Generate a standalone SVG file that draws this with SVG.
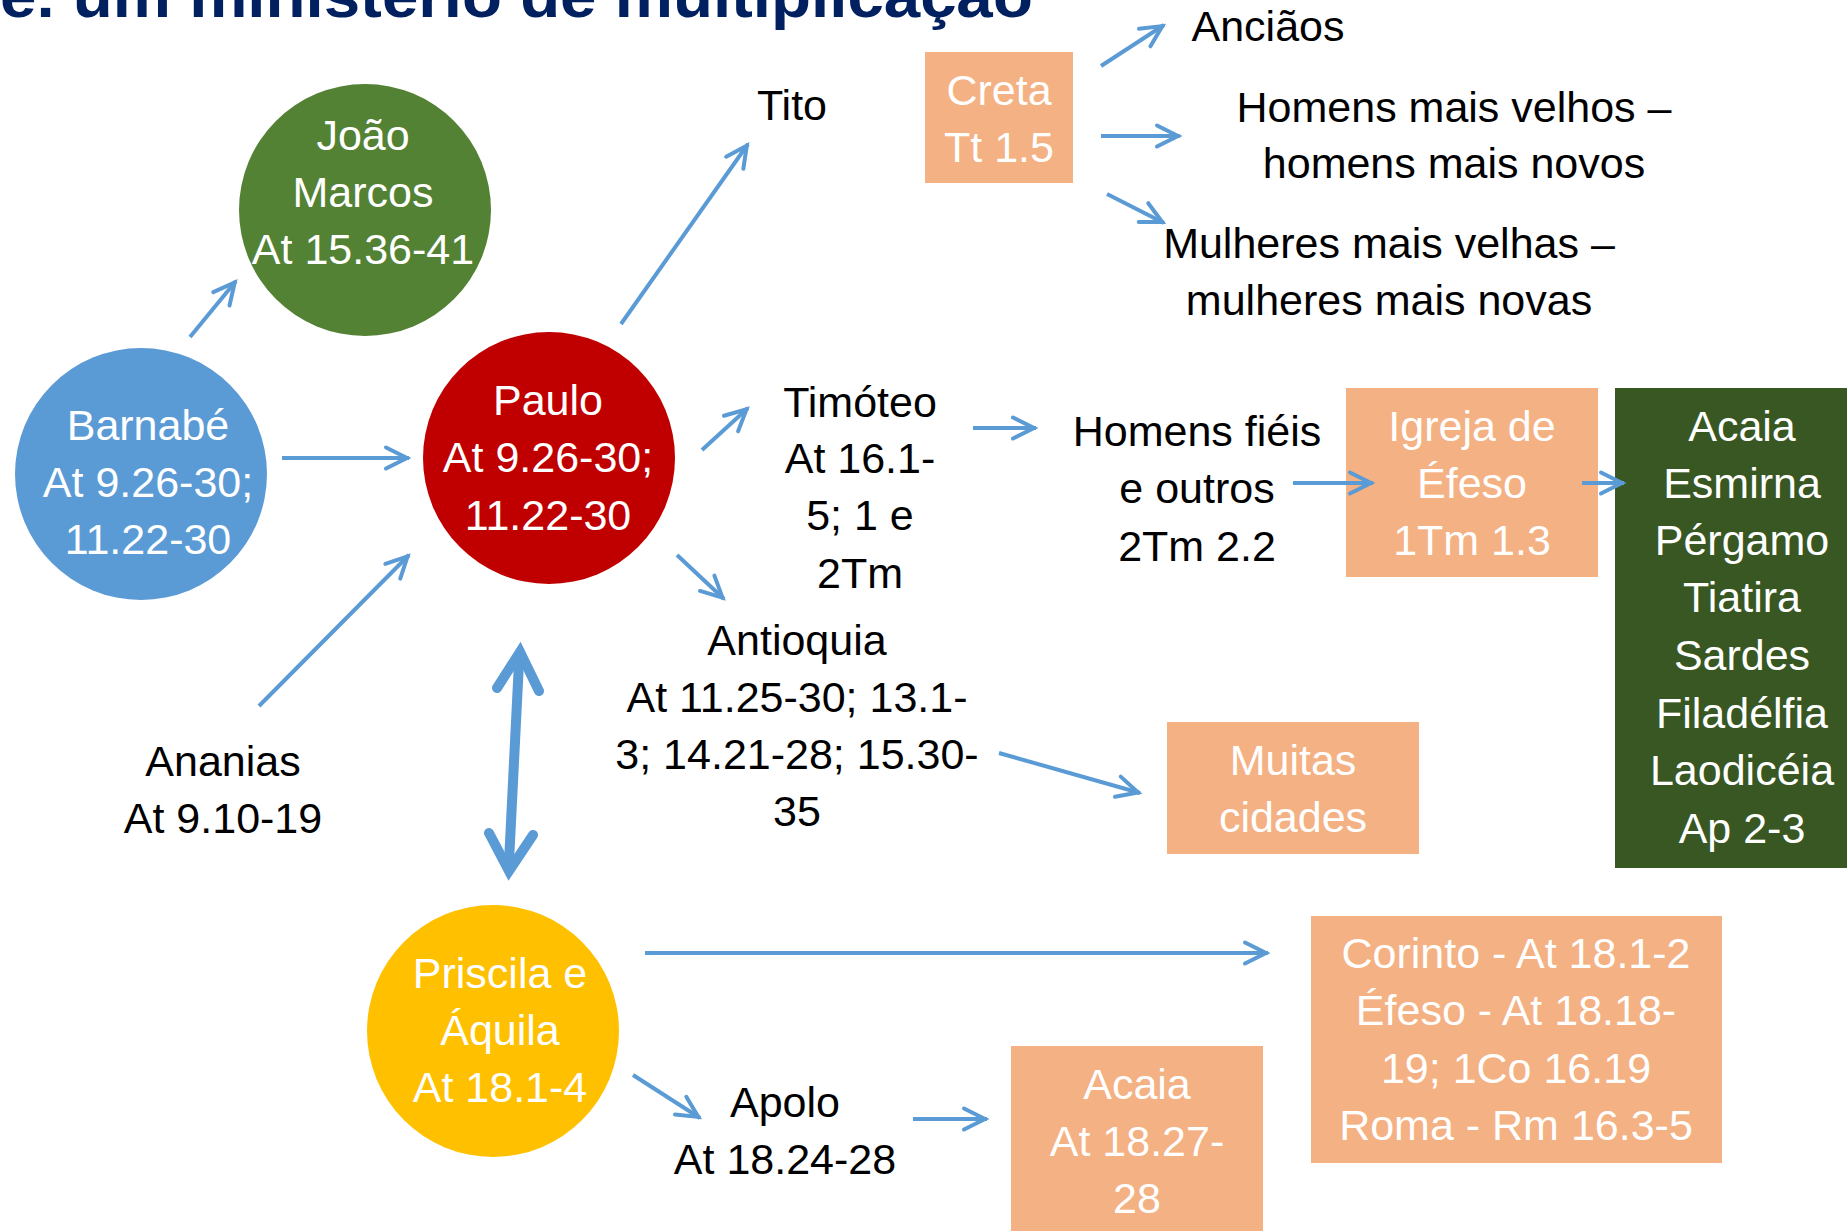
<svg xmlns="http://www.w3.org/2000/svg" width="1847" height="1231" viewBox="0 0 1847 1231">
<style>
.t{font-family:"Liberation Sans",Arial,sans-serif;font-size:43px;text-anchor:middle}
.w{fill:#ffffff}
.k{fill:#000000}
.c{stroke:#5B9BD5;stroke-width:4;fill:none;marker-end:url(#ah)}
.box{fill:#F4B183}
</style>
<defs>
<marker id="ah" markerUnits="userSpaceOnUse" markerWidth="40" markerHeight="40" viewBox="-30 -20 40 40" refX="2" refY="0" orient="auto" overflow="visible">
<path d="M-21,-10.5 L0,0 L-21,10.5" fill="none" stroke="#5B9BD5" stroke-width="4" stroke-linecap="round" stroke-linejoin="miter"/>
</marker>
</defs>
<rect width="1847" height="1231" fill="#ffffff"/>

<g id="title">
<text x="0" y="17" font-family="'Liberation Sans',Arial,sans-serif" font-weight="bold" font-size="62" fill="#002060" textLength="1033" lengthAdjust="spacingAndGlyphs">e. um ministério de multiplicação</text>
</g>

<g id="joao">
<circle cx="365" cy="210" r="126" fill="#548235"/>
<text class="t w" x="363" y="150">João</text>
<text class="t w" x="363" y="207">Marcos</text>
<text class="t w" x="363" y="264">At 15.36-41</text>
</g>

<g id="barnabe">
<circle cx="141" cy="474" r="126" fill="#5B9BD5"/>
<text class="t w" x="148" y="440">Barnabé</text>
<text class="t w" x="148" y="497">At 9.26-30;</text>
<text class="t w" x="148" y="554">11.22-30</text>
</g>

<g id="paulo">
<circle cx="549" cy="458" r="126" fill="#C00000"/>
<text class="t w" x="548" y="415">Paulo</text>
<text class="t w" x="548" y="472">At 9.26-30;</text>
<text class="t w" x="548" y="530">11.22-30</text>
</g>

<g id="priscila">
<circle cx="493" cy="1031" r="126" fill="#FFC000"/>
<text class="t w" x="500" y="988">Priscila e</text>
<text class="t w" x="500" y="1045">Áquila</text>
<text class="t w" x="500" y="1102">At 18.1-4</text>
</g>

<g id="ananias">
<text class="t k" x="223" y="776">Ananias</text>
<text class="t k" x="223" y="833">At 9.10-19</text>
</g>

<g id="tito">
<text class="t k" x="792" y="120">Tito</text>
</g>

<g id="creta">
<rect class="box" x="925" y="52" width="148" height="131"/>
<text class="t w" x="999" y="105">Creta</text>
<text class="t w" x="999" y="162">Tt 1.5</text>
</g>

<g id="ancioes">
<text class="t k" x="1268" y="41">Anciãos</text>
</g>

<g id="homens-velhos">
<text class="t k" x="1454" y="122">Homens mais velhos –</text>
<text class="t k" x="1454" y="178">homens mais novos</text>
</g>

<g id="mulheres">
<text class="t k" x="1389" y="258">Mulheres mais velhas –</text>
<text class="t k" x="1389" y="315">mulheres mais novas</text>
</g>

<g id="timoteo">
<text class="t k" x="860" y="417">Timóteo</text>
<text class="t k" x="860" y="473">At 16.1-</text>
<text class="t k" x="860" y="530">5; 1 e</text>
<text class="t k" x="860" y="588">2Tm</text>
</g>

<g id="homens-fieis">
<text class="t k" x="1197" y="446">Homens fiéis</text>
<text class="t k" x="1197" y="503">e outros</text>
<text class="t k" x="1197" y="561">2Tm 2.2</text>
</g>

<g id="igreja-efeso">
<rect class="box" x="1346" y="388" width="252" height="189"/>
<text class="t w" x="1472" y="441">Igreja de</text>
<text class="t w" x="1472" y="498">Éfeso</text>
<text class="t w" x="1472" y="555">1Tm 1.3</text>
</g>

<g id="igrejas-apocalipse">
<rect x="1615" y="388" width="232" height="480" fill="#385723"/>
<text class="t w" x="1742" y="441">Acaia</text>
<text class="t w" x="1742" y="498">Esmirna</text>
<text class="t w" x="1742" y="555">Pérgamo</text>
<text class="t w" x="1742" y="612">Tiatira</text>
<text class="t w" x="1742" y="670">Sardes</text>
<text class="t w" x="1742" y="728">Filadélfia</text>
<text class="t w" x="1742" y="785">Laodicéia</text>
<text class="t w" x="1742" y="843">Ap 2-3</text>
</g>

<g id="antioquia">
<text class="t k" x="797" y="655">Antioquia</text>
<text class="t k" x="797" y="712">At 11.25-30; 13.1-</text>
<text class="t k" x="797" y="769">3; 14.21-28; 15.30-</text>
<text class="t k" x="797" y="826">35</text>
</g>

<g id="muitas-cidades">
<rect class="box" x="1167" y="722" width="252" height="132"/>
<text class="t w" x="1293" y="775">Muitas</text>
<text class="t w" x="1293" y="832">cidades</text>
</g>

<g id="corinto">
<rect class="box" x="1311" y="916" width="411" height="247"/>
<text class="t w" x="1516" y="968">Corinto - At 18.1-2</text>
<text class="t w" x="1516" y="1025">Éfeso - At 18.18-</text>
<text class="t w" x="1516" y="1083">19; 1Co 16.19</text>
<text class="t w" x="1516" y="1140">Roma - Rm 16.3-5</text>
</g>

<g id="apolo">
<text class="t k" x="785" y="1117">Apolo</text>
<text class="t k" x="785" y="1174">At 18.24-28</text>
</g>

<g id="acaia">
<rect class="box" x="1011" y="1046" width="252" height="185"/>
<text class="t w" x="1137" y="1099">Acaia</text>
<text class="t w" x="1137" y="1156">At 18.27-</text>
<text class="t w" x="1137" y="1213">28</text>
</g>

<g id="connectors">
<line class="c" x1="190" y1="337" x2="236" y2="281"/>
<line class="c" x1="282" y1="458" x2="409" y2="458"/>
<line class="c" x1="259" y1="706" x2="409" y2="555"/>
<line class="c" x1="621" y1="324" x2="748" y2="144"/>
<line class="c" x1="702" y1="450" x2="748" y2="408"/>
<line class="c" x1="677" y1="555" x2="724" y2="599"/>
<line class="c" x1="1101" y1="66" x2="1164" y2="25"/>
<line class="c" x1="1101" y1="136" x2="1180" y2="136"/>
<line class="c" x1="1107" y1="194" x2="1164" y2="223"/>
<line class="c" x1="973" y1="428" x2="1036" y2="428"/>
<line class="c" x1="1293" y1="483" x2="1373" y2="483"/>
<line class="c" x1="1582" y1="483" x2="1624" y2="483"/>
<line class="c" x1="999" y1="753" x2="1140" y2="793"/>
<line class="c" x1="645" y1="953" x2="1268" y2="953"/>
<line class="c" x1="633" y1="1075" x2="700" y2="1118"/>
<line class="c" x1="913" y1="1119" x2="987" y2="1119"/>
<g stroke="#5B9BD5" stroke-width="10" fill="none" stroke-linecap="round" stroke-linejoin="miter" stroke-miterlimit="10">
<line x1="519" y1="662" x2="509" y2="862"/>
<polyline points="497,688 520,652 539,691"/>
<polyline points="489,833 509,871 533,835"/>
</g>
</g>
</svg>
